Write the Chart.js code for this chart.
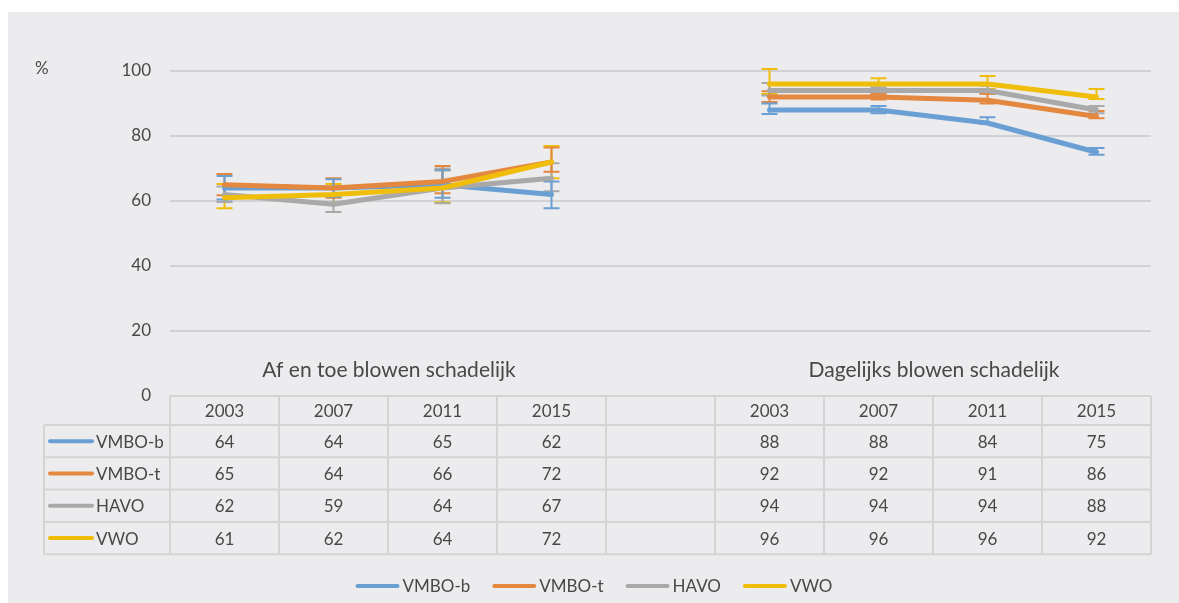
<!DOCTYPE html>
<html>
<head>
<meta charset="utf-8">
<script src="https://cdn.jsdelivr.net/npm/chart.js@4"></script>
<style>
  html, body { margin: 0; padding: 0; background: #fff; }
  canvas { display: block; }
</style>
</head>
<body>
<canvas id="chart" width="1179" height="603"></canvas>
<script>
'use strict'

// categories: two groups of survey years with an empty column in between
const categories = ['2003', '2007', '2011', '2015', '', '2003', '2007', '2011', '2015']
const groupTitles = ['Af en toe blowen schadelijk', 'Dagelijks blowen schadelijk']
const seriesNames = ['VMBO-b', 'VMBO-t', 'HAVO', 'VWO']
const seriesColors = ['#6A9FD3', '#E4873F', '#A9A9A9', '#F0BE0A']

// percentages (also shown in the table)
const vmboB = [64, 64, 65, 62, null, 88, 88, 84, 75]
const vmboT = [65, 64, 66, 72, null, 92, 92, 91, 86]
const havo  = [62, 59, 64, 67, null, 94, 94, 94, 88]
const vwo   = [61, 62, 64, 72, null, 96, 96, 96, 92]

// error bar ends
const vmboBLow  = [60.5, 61.3, 61.0, 57.8, null, 86.8, 87.0, 83.7, 74.2]
const vmboBHigh = [67.7, 66.7, 69.5, 66.0, null, 90.0, 89.2, 85.8, 76.3]
const vmboTLow  = [61.8, 61.0, 62.4, 69.0, null, 90.5, 91.2, 90.0, 85.5]
const vmboTHigh = [68.3, 67.0, 70.8, 76.5, null, 93.8, 93.0, 93.0, 87.7]
const havoLow   = [59.7, 56.6, 59.3, 63.0, null, 92.5, 93.0, 93.0, 87.0]
const havoHigh  = [64.5, 62.0, 70.0, 71.6, null, 96.3, 95.0, 95.5, 89.2]
const vwoLow    = [57.8, 59.4, 59.6, 67.0, null, 92.9, 94.8, 94.5, 91.4]
const vwoHigh   = [65.2, 65.2, 69.5, 76.9, null, 100.6, 97.8, 98.5, 94.5]

const yTicks = [0, 20, 40, 60, 80, 100]

const seriesValues = [vmboB, vmboT, havo, vwo]
const seriesLow = [vmboBLow, vmboTLow, havoLow, vwoLow]
const seriesHigh = [vmboBHigh, vmboTHigh, havoHigh, vwoHigh]

const FONT = 'Lato, "Open Sans", sans-serif'
const TEXT = '#484848'
const LINE = '#D4D4D4'

const background = {
  id: 'background',
  beforeDraw(chart) {
    const ctx = chart.ctx
    ctx.save()
    ctx.fillStyle = '#ffffff'
    ctx.fillRect(0, 0, chart.width, chart.height)
    ctx.fillStyle = '#ECECEE'
    ctx.fillRect(8, 12, chart.width - 8, chart.height - 12)
    ctx.restore()
  }
}

const errorBars = {
  id: 'errorBars',
  beforeDatasetsDraw(chart) {
    const ctx = chart.ctx
    const x = chart.scales.x
    const y = chart.scales.y
    ctx.save()
    ctx.lineWidth = 2
    // draw in reverse so the first series ends up on top of the others' bars
    for (let s = seriesLow.length - 1; s >= 0; s--) {
      ctx.strokeStyle = seriesColors[s]
      seriesLow[s].forEach((lo, i) => {
        const hi = seriesHigh[s][i]
        if (lo === null || hi === null) return
        const px = x.getPixelForValue(i)
        const y1 = y.getPixelForValue(lo)
        const y2 = y.getPixelForValue(hi)
        ctx.beginPath()
        ctx.moveTo(px, y1); ctx.lineTo(px, y2)
        ctx.moveTo(px - 8, y1); ctx.lineTo(px + 8, y1)
        ctx.moveTo(px - 8, y2); ctx.lineTo(px + 8, y2)
        ctx.stroke()
      })
    }
    ctx.restore()
  }
}

const extras = {
  id: 'extras',
  afterDraw(chart) {
    const ctx = chart.ctx
    const x = chart.scales.x
    const area = chart.chartArea
    const colW = x.getPixelForValue(1) - x.getPixelForValue(0)
    ctx.save()
    ctx.fillStyle = TEXT

    // unit label
    ctx.font = '17px ' + FONT
    ctx.textAlign = 'left'
    ctx.textBaseline = 'middle'
    ctx.fillText('%', 35, 69)

    // group titles
    ctx.font = '21px ' + FONT
    ctx.textAlign = 'center'
    const left = (x.getPixelForValue(0) + x.getPixelForValue(3)) / 2
    const right = (x.getPixelForValue(5) + x.getPixelForValue(8)) / 2
    ctx.fillText(groupTitles[0], left + 1, 370)
    ctx.fillText(groupTitles[1], right + 1, 370)

    // data table
    const top = area.bottom
    const headH = 29
    const rowH = 32.3
    const headerLeft = 44
    const tableBottom = top + headH + rowH * seriesValues.length
    ctx.strokeStyle = LINE
    ctx.lineWidth = 2
    ctx.beginPath()
    ctx.moveTo(area.left, top); ctx.lineTo(area.right, top)
    for (let r = 0; r <= seriesValues.length; r++) {
      const ry = top + headH + rowH * r
      ctx.moveTo(headerLeft, ry); ctx.lineTo(area.right, ry)
    }
    ctx.moveTo(headerLeft, top + headH); ctx.lineTo(headerLeft, tableBottom)
    for (let i = 0; i <= categories.length; i++) {
      const cx = x.getPixelForValue(0) - colW / 2 + colW * i
      ctx.moveTo(cx, top); ctx.lineTo(cx, tableBottom)
    }
    ctx.stroke()

    ctx.font = '17px ' + FONT
    ctx.textAlign = 'center'
    categories.forEach((c, i) => {
      ctx.fillText(c, x.getPixelForValue(i), top + headH / 2 + 1)
    })
    seriesValues.forEach((vals, s) => {
      const cy = top + headH + rowH * s + rowH / 2 + 1
      vals.forEach((v, i) => {
        if (v === null) return
        ctx.fillText(String(v), x.getPixelForValue(i), cy)
      })
      ctx.strokeStyle = seriesColors[s]
      ctx.lineWidth = 4
      ctx.lineCap = 'round'
      ctx.beginPath()
      ctx.moveTo(50, cy - 1); ctx.lineTo(92, cy - 1)
      ctx.stroke()
      ctx.textAlign = 'left'
      ctx.fillText(seriesNames[s], 96, cy)
      ctx.textAlign = 'center'
    })

    // legend
    ctx.textAlign = 'left'
    const sample = 44, gap = 3, spacing = 22
    const widths = seriesNames.map(n => ctx.measureText(n).width)
    const total = widths.reduce((a, w) => a + sample + gap + w + spacing, 0) - spacing
    let lx = 594 - total / 2
    const ly = 587
    seriesNames.forEach((n, s) => {
      ctx.strokeStyle = seriesColors[s]
      ctx.lineWidth = 4
      ctx.lineCap = 'round'
      ctx.beginPath()
      ctx.moveTo(lx + 2, ly - 1); ctx.lineTo(lx + sample - 2, ly - 1)
      ctx.stroke()
      ctx.fillText(n, lx + sample + gap, ly)
      lx += sample + gap + widths[s] + spacing
    })
    ctx.restore()
  }
}

const chart = new Chart(document.getElementById('chart'), {
  type: 'line',
  data: {
    labels: categories,
    datasets: seriesNames.map((name, s) => ({
      label: name,
      data: seriesValues[s],
      borderColor: seriesColors[s],
      backgroundColor: seriesColors[s],
      borderWidth: 5,
      borderJoinStyle: 'round',
      borderCapStyle: 'round',
      pointRadius: 0,
      pointHoverRadius: 0,
      tension: 0,
      spanGaps: false,
      clip: false,
      order: seriesNames.length - s
    }))
  },
  options: {
    responsive: false,
    devicePixelRatio: 1,
    animation: false,
    layout: {
      padding: {left: 0, right: 28, top: 71, bottom: 207}
    },
    scales: {
      x: {
        type: 'category',
        display: false,
        offset: true
      },
      y: {
        min: 0,
        max: 100,
        afterFit: (scale) => { scale.width = 170 },
        afterBuildTicks: (scale) => { scale.ticks = yTicks.map(v => ({value: v})) },
        border: {display: false},
        grid: {
          drawTicks: false,
          lineWidth: 2,
          color: (c) => c.tick && c.tick.value === 0 ? 'rgba(0,0,0,0)' : '#D2D2D4'
        },
        ticks: {
          padding: 19,
          color: TEXT,
          font: {family: FONT, size: 17}
        }
      }
    },
    plugins: {
      legend: {display: false},
      tooltip: {enabled: false}
    }
  },
  plugins: [background, errorBars, extras]
})
</script>
</body>
</html>
